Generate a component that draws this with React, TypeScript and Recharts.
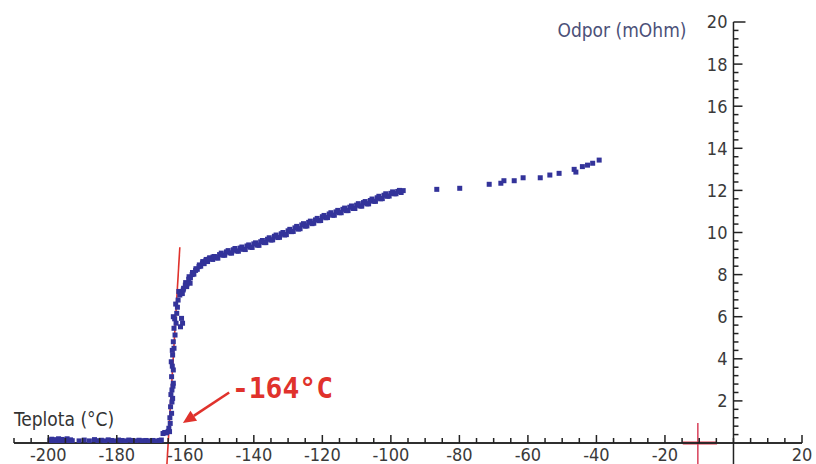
import React from 'react';
import { ScatterChart, Scatter, XAxis, YAxis, ReferenceLine, ReferenceDot } from 'recharts';

// ---- data (temperature °C, resistance mOhm) ----
const flatPoints: [number, number][] = [
  [-199.5, 0.12], [-199, 0.18], [-198.5, 0.1], [-198, 0.16], [-197.5, 0.08], [-197, 0.2],
  [-196.5, 0.12], [-196, 0.17], [-195.5, 0.1], [-195, 0.14], [-194.5, 0.2], [-194, 0.09],
  [-193.5, 0.15], [-193, 0.11], [-191, 0.1], [-189.5, 0.14], [-188, 0.1], [-186.5, 0.16],
  [-185.5, 0.11], [-184.5, 0.13], [-183.5, 0.1], [-182.5, 0.15], [-181.5, 0.12], [-180.5, 0.1],
  [-179.5, 0.14], [-178.5, 0.12], [-177.5, 0.1], [-176.5, 0.14], [-175.5, 0.12], [-174.5, 0.1],
  [-173.5, 0.13], [-172.5, 0.11], [-171.5, 0.12], [-170.5, 0.1], [-169.5, 0.12], [-168.5, 0.1],
  [-167.5, 0.12], [-167, 0.14],
];

const stepPoints: [number, number][] = [
  [-166.5, 0.45], [-166, 0.5], [-165.5, 0.48], [-165, 0.55], [-164.8, 0.7],
  [-164.6, 0.54], [-164.4, 0.93], [-164.5, 1.2], [-164.0, 1.41], [-164.3, 1.72], [-163.9, 1.95],
  [-163.7, 2.12], [-163.9, 2.52], [-163.6, 2.7], [-163.5, 2.84], [-164.0, 3.15], [-163.5, 3.47],
  [-163.8, 3.65], [-164.1, 3.86], [-163.7, 4.18], [-163.3, 4.5], [-163.5, 4.81], [-163.0, 5.13],
  [-163.3, 5.45], [-162.7, 5.69], [-163.5, 6.0], [-162.5, 6.16], [-161.1, 5.92], [-160.8, 5.69],
  [-161.4, 5.52], [-162.3, 6.45], [-162.1, 6.79], [-161.6, 7.03], [-160.6, 7.27], [-159.6, 7.43],
  [-158.6, 7.59], [-164.2, 2.3], [-163.8, 4.4], [-163.1, 5.9], [-162.8, 6.6], [-161.9, 7.2],
  [-160.9, 7.1], [-159.9, 7.62], [-158.9, 7.9], [-157.9, 8.1], [-156.9, 8.28], [-155.9, 8.46],
  [-154.9, 8.62], [-153.9, 8.72], [-152.9, 8.8], [-151.9, 8.84],
];

const curvePoints: [number, number][] = [
  [-161, 7.1], [-160.5, 7.35], [-160, 7.5], [-159.5, 7.55], [-159, 7.78], [-158.5, 7.85],
  [-158, 8.0], [-157.5, 8.02], [-157, 8.2], [-156.5, 8.25], [-156, 8.38], [-155.5, 8.4],
  [-155, 8.55], [-154.5, 8.52], [-154, 8.66], [-153.5, 8.62], [-153, 8.75], [-152, 8.72],
  [-151.5, 8.86], [-151, 8.8], [-150, 8.95], [-149, 8.92], [-148, 9.08], [-147, 9.03],
  [-146, 9.18], [-145, 9.12], [-144, 9.26], [-143, 9.2], [-142, 9.36], [-141, 9.3],
  [-140, 9.46], [-139, 9.4], [-138, 9.56], [-137, 9.52], [-136, 9.68], [-135, 9.64],
  [-134, 9.82], [-133, 9.76], [-132, 9.94], [-131, 9.88], [-130, 10.08], [-129, 10.04],
  [-128, 10.22], [-127, 10.16], [-126, 10.36], [-125, 10.3], [-124, 10.48], [-123, 10.42],
  [-122, 10.6], [-121, 10.56], [-120, 10.75], [-119, 10.7], [-118, 10.88], [-117, 10.82],
  [-116, 10.98], [-115, 10.94], [-114, 11.1], [-113, 11.04], [-112, 11.2], [-111, 11.14],
  [-110, 11.3], [-109, 11.26], [-108, 11.42], [-107, 11.36], [-106, 11.52], [-105, 11.48],
  [-104, 11.65], [-103, 11.6], [-102, 11.77], [-101, 11.72], [-100, 11.86], [-99, 11.84],
  [-98, 11.95], [-97, 11.9], [-96.4, 11.99],
];

const curvePointsB: [number, number][] = [
  [-150.5, 8.78], [-149.5, 9.02], [-148.5, 8.92], [-147.5, 9.14], [-146.5, 9.02], [-145.5, 9.24],
  [-144.5, 9.11], [-143.5, 9.31], [-142.5, 9.19], [-141.5, 9.41], [-140.5, 9.29], [-139.5, 9.51],
  [-138.5, 9.39], [-137.5, 9.62], [-136.5, 9.52], [-135.5, 9.75], [-134.5, 9.65], [-133.5, 9.88],
  [-132.5, 9.77], [-131.5, 10.0], [-130.5, 9.9], [-129.5, 10.15], [-128.5, 10.05], [-127.5, 10.29],
  [-126.5, 10.18], [-125.5, 10.42], [-124.5, 10.31], [-123.5, 10.54], [-122.5, 10.44], [-121.5, 10.67],
  [-120.5, 10.57], [-119.5, 10.81], [-118.5, 10.71], [-117.5, 10.94], [-116.5, 10.82], [-115.5, 11.05],
  [-114.5, 10.94], [-113.5, 11.16], [-112.5, 11.04], [-111.5, 11.26], [-110.5, 11.14], [-109.5, 11.37],
  [-108.5, 11.25], [-107.5, 11.47], [-106.5, 11.36], [-105.5, 11.59], [-104.5, 11.48], [-103.5, 11.72],
  [-102.5, 11.61], [-101.5, 11.84], [-100.5, 11.73], [-99.5, 11.93], [-98.5, 11.84], [-97.5, 12.0],
];

const tailPoints: [number, number][] = [
  [-86.6, 12.05], [-79.9, 12.1], [-71.3, 12.29], [-67.9, 12.34], [-67.0, 12.46], [-64.0, 12.46],
  [-61.4, 12.6], [-56.4, 12.6], [-53.6, 12.73], [-50.9, 12.81], [-46.5, 13.0], [-46.0, 12.87],
  [-44.1, 13.13], [-42.6, 13.2], [-41.1, 13.29], [-39.2, 13.44],
];

const xMinorTicks: number[] = [
  -210, -205, -200, -195, -190, -185, -180, -175, -170, -165, -160, -155, -150, -145, -140,
  -135, -130, -125, -120, -115, -110, -105, -100, -95, -90, -85, -80, -75, -70, -65, -60,
  -55, -50, -45, -40, -35, -30, -25, -20, -15, -10, -5, 0, 5, 10, 15, 20,
];
const xTickLabels: number[] = [-200, -180, -160, -140, -120, -100, -80, -60, -40, -20, 20];
const yTickLabels: number[] = [2, 4, 6, 8, 10, 12, 14, 16, 18, 20];
const yMinorStep = 0.4;

const transitionTemp = -164;
const fitLine = [{ x: -165.4, y: -1.1 }, { x: -161.6, y: 9.3 }];
const arrowLine = [{ x: -147.2, y: 2.4 }, { x: -160.7, y: 0.95 }];
const markerX = -10.4;

const allPoints = [...flatPoints, ...stepPoints, ...curvePoints, ...curvePointsB, ...tailPoints].map(([x, y]) => ({ x, y }));

const yTicks: number[] = [];
for (let i = 1; i * yMinorStep <= 20.001; i++) yTicks.push(Math.round(i * yMinorStep * 10) / 10);

const FONT = "'DejaVu Sans Condensed', 'DejaVu Sans', sans-serif";
const AXIS = '#222';
const RED = '#e0322c';
const FS = 18;

const XTick = (props: any) => {
  const { x, y, payload } = props;
  const v = payload.value;
  const major = xTickLabels.includes(v);
  return (
    <g>
      <line x1={x} x2={x} y1={y} y2={y - (major ? 8 : 5)} stroke={AXIS} strokeWidth={1.5} />
      {major && (
        <text x={x} y={y + 18} textAnchor="middle" fontFamily={FONT} fontStretch="condensed" fontSize={FS} fill="#3a3a3a">
          {v}
        </text>
      )}
    </g>
  );
};

const Square = (props: any) => {
  const { cx, cy } = props;
  if (cx == null || cy == null) return null;
  return <rect x={cx - 2.5} y={cy - 2.5} width={5} height={5} fill="#33339a" />;
};

export default function App() {
  return (
    <div style={{ position: 'fixed', left: 0, top: 0, width: 816, height: 464, background: '#fff' }}>
      <ScatterChart width={816} height={464} margin={{ top: 22, right: 14, bottom: 0, left: 14 }}>
        <XAxis
          type="number"
          dataKey="x"
          domain={[-210, 20]}
          ticks={xMinorTicks}
          interval={0}
          tickSize={0}
          tickMargin={0}
          height={21}
          tick={<XTick />}
          axisLine={{ stroke: AXIS, strokeWidth: 1.5 }}
          allowDataOverflow
        />
        <YAxis hide type="number" dataKey="y" domain={[0, 20]} allowDataOverflow />
        <Scatter data={allPoints} isAnimationActive={false} shape={<Square />} />

        {/* vertical axis at x = 0 */}
        <ReferenceLine segment={[{ x: 0, y: -1.2 }, { x: 0, y: 20 }]} stroke={AXIS} strokeWidth={1.5} ifOverflow="visible" />
        {yTicks.map((v) => {
          const isMajor = yTickLabels.includes(v);
          return (
            <ReferenceDot
              key={'yt' + v}
              x={0}
              y={v}
              r={0}
              ifOverflow="visible"
              shape={(p: any) => (
                <g>
                  <line x1={p.cx} x2={p.cx + (v === 20 ? 12 : isMajor ? 9 : 5)} y1={p.cy} y2={p.cy} stroke={AXIS} strokeWidth={1.5} />
                  {isMajor && (
                    <text x={p.cx - 6} y={p.cy} dy="0.36em" textAnchor="end" fontFamily={FONT} fontStretch="condensed" fontSize={FS} fill="#3a3a3a">
                      {v}
                    </text>
                  )}
                </g>
              )}
            />
          );
        })}

        {/* axis titles */}
        <ReferenceDot
          x={-210}
          y={0}
          r={0}
          ifOverflow="visible"
          shape={(p: any) => (
            <text x={p.cx} y={p.cy - 17} fontFamily={FONT} fontStretch="condensed" fontSize={FS + 1} fill="#333">
              Teplota (°C)
            </text>
          )}
        />
        <ReferenceDot
          x={0}
          y={20}
          r={0}
          ifOverflow="visible"
          shape={(p: any) => (
            <text x={p.cx - 47} y={p.cy + 15} textAnchor="end" fontFamily={FONT} fontStretch="condensed" fontSize={FS + 1} fill="#4b5078">
              Odpor (mOhm)
            </text>
          )}
        />

        {/* fitted tangent line */}
        <ReferenceLine segment={fitLine} stroke={RED} strokeWidth={1.6} ifOverflow="visible" />

        {/* arrow + annotation */}
        <ReferenceLine
          segment={arrowLine}
          ifOverflow="visible"
          shape={(p: any) => {
            const { x1, y1, x2, y2 } = p;
            const dx = x2 - x1;
            const dy = y2 - y1;
            const len = Math.sqrt(dx * dx + dy * dy) || 1;
            const ux = dx / len;
            const uy = dy / len;
            const hl = 13;
            const hw = 6;
            const bx = x2 - ux * hl;
            const by = y2 - uy * hl;
            return (
              <g>
                <line x1={x1} y1={y1} x2={bx} y2={by} stroke={RED} strokeWidth={2.6} />
                <polygon
                  points={`${x2},${y2} ${bx - uy * hw},${by + ux * hw} ${bx + uy * hw},${by - ux * hw}`}
                  fill={RED}
                />
              </g>
            );
          }}
        />
        <ReferenceDot
          x={-146.4}
          y={2.14}
          r={0}
          ifOverflow="visible"
          shape={(p: any) => (
            <text x={p.cx} y={p.cy} fontFamily="'DejaVu Sans Mono', monospace" fontWeight="bold" fontSize={28} fill={RED}>
              {`${transitionTemp}°C`}
            </text>
          )}
        />

        {/* red cross marker near origin */}
        <ReferenceLine segment={[{ x: markerX - 4.4, y: 0 }, { x: markerX + 5.6, y: 0 }]} stroke="#e87d8a" strokeOpacity={0.8} strokeWidth={4} ifOverflow="visible" />
        <ReferenceLine segment={[{ x: markerX, y: 0.95 }, { x: markerX, y: -1.3 }]} stroke="#d8405a" strokeWidth={1.5} ifOverflow="visible" />
        <ReferenceLine segment={[{ x: -210, y: 0 }, { x: 20, y: 0 }]} stroke={AXIS} strokeWidth={1.5} ifOverflow="visible" />
      </ScatterChart>
    </div>
  );
}
